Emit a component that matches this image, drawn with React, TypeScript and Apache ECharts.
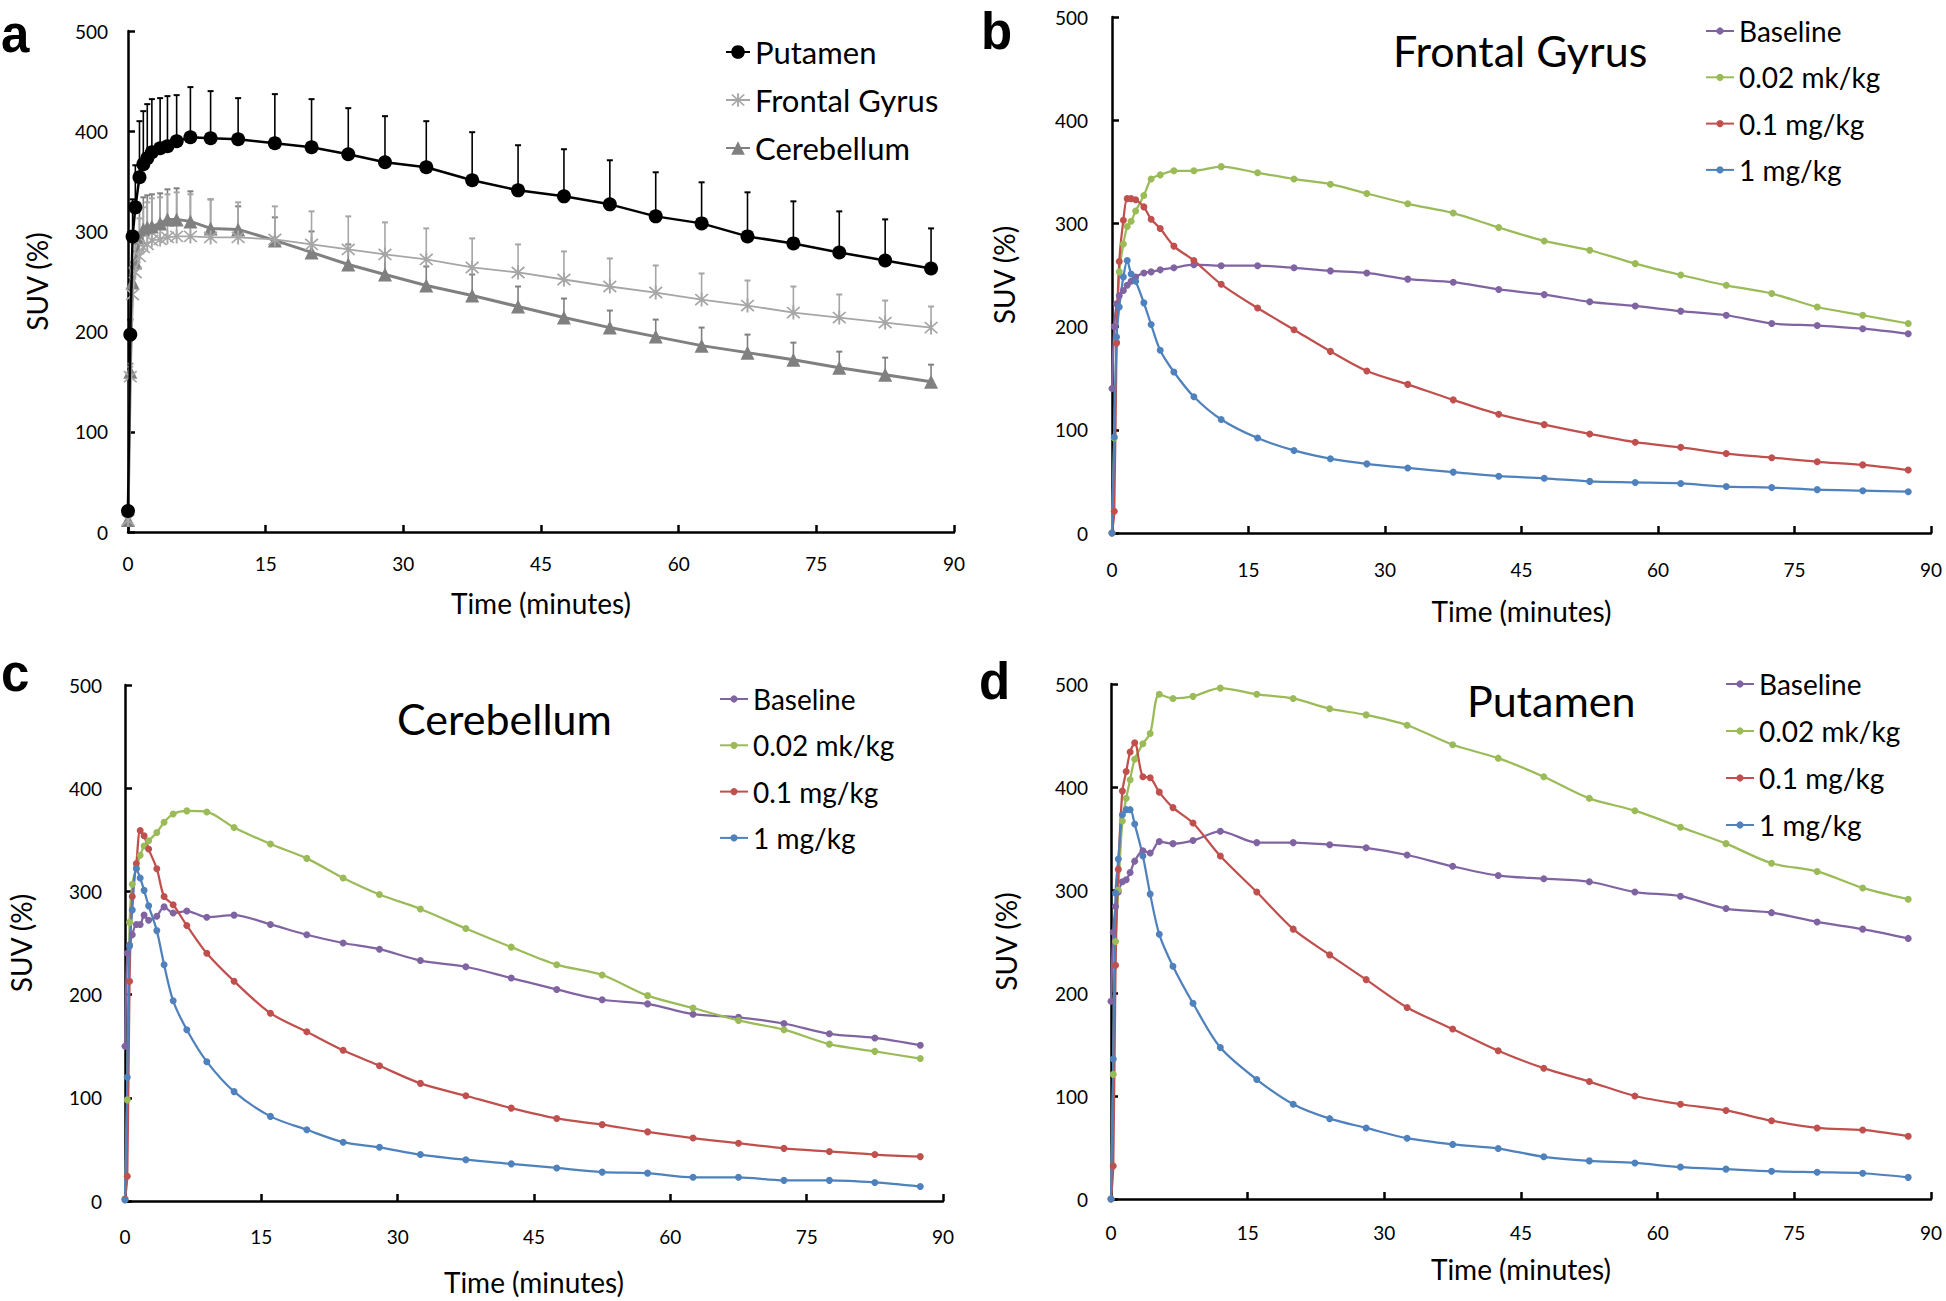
import React, { useEffect, useRef } from "react";
import * as echarts from "echarts";

// ---------- shared time grid (minutes) ----------
const TIME = [0, 0.25, 0.5, 0.8, 1.25, 1.67, 2.1, 2.6, 3.5, 4.3, 5.3, 6.8, 9, 12, 16, 20, 24, 28, 32.5, 37.5, 42.5, 47.5, 52.5, 57.5, 62.5, 67.5, 72.5, 77.5, 82.5, 87.5];

// ---------- panel a : regional means (+SD) ----------
const A_NAMES = ["Putamen", "Frontal Gyrus", "Cerebellum"];
const A_PUTAMEN = [21, 197, 295, 324, 354, 367, 373, 379, 383, 385, 390, 394, 393, 392, 388, 384, 377, 369, 364, 351, 341, 335, 327, 315, 308, 295, 288, 279, 271, 263];
const A_PUTAMEN_SD = [5, 15, 37, 42, 56, 53, 54, 53, 50, 50, 46, 50, 47, 41, 49, 48, 46, 46, 46, 48, 45, 47, 44, 44, 41, 44, 42, 41, 41, 40];
const A_FG = [12, 155, 237, 259, 275, 284, 287, 291, 292, 294, 295, 295, 294, 294, 292, 287, 282, 277, 272, 264, 259, 252, 245, 239, 232, 226, 219, 214, 209, 204];
const A_FG_SD = [3, 10, 20, 30, 38, 40, 42, 42, 42, 43, 44, 42, 38, 35, 33, 33, 33, 32, 31, 29, 28, 28, 28, 27, 26, 25, 26, 23, 22, 21];
const A_CB = [12, 160, 249, 269, 294, 302, 304, 305, 308, 312, 312, 310, 303, 302, 291, 279, 267, 257, 246, 236, 225, 214, 204, 195, 186, 179, 172, 164, 157, 150];
const A_CB_SD = [2, 8, 20, 28, 30, 32, 32, 32, 30, 30, 31, 30, 29, 23, 23, 21, 20, 20, 19, 21, 20, 19, 17, 17, 18, 18, 17, 16, 17, 17];

// ---------- dose groups ----------
const DOSE_NAMES = ["Baseline", "0.02 mk/kg", "0.1 mg/kg", "1 mg/kg"];

// panel b : Frontal Gyrus
const B_BASE = [140, 200, 222, 230, 235, 240, 244, 248, 252, 253, 255, 257, 260, 259, 259, 257, 254, 252, 246, 243, 236, 231, 224, 220, 215, 211, 203, 201, 198, 193];
const B_002 = [0, 92, 185, 253, 280, 297, 302, 312, 327, 343, 347, 351, 351, 355, 349, 343, 338, 329, 319, 310, 296, 283, 274, 261, 250, 240, 232, 219, 211, 203];
const B_01 = [0, 21, 184, 263, 303, 324, 324, 323, 316, 304, 295, 278, 264, 241, 218, 197, 176, 157, 144, 129, 115, 105, 96, 88, 83, 77, 73, 69, 66, 61];
const B_1 = [0, 93, 190, 219, 248, 264, 251, 244, 223, 202, 177, 156, 132, 110, 92, 80, 72, 67, 63, 59, 55, 53, 50, 49, 48, 45, 44, 42, 41, 40];

// panel c : Cerebellum
const C_BASE = [150, 240, 248, 258, 268, 268, 277, 272, 276, 285, 279, 281, 275, 277, 268, 258, 250, 244, 233, 227, 216, 205, 195, 191, 181, 178, 172, 162, 158, 151];
const C_002 = [2, 98, 270, 307, 323, 335, 344, 349, 357, 367, 375, 378, 377, 362, 346, 332, 313, 297, 283, 264, 246, 229, 219, 199, 187, 175, 166, 152, 145, 138];
const C_01 = [2, 24, 213, 295, 327, 359, 354, 341, 322, 295, 287, 267, 240, 213, 182, 164, 146, 131, 114, 102, 90, 80, 74, 67, 61, 56, 51, 48, 45, 43];
const C_1 = [1, 120, 247, 282, 322, 313, 301, 286, 262, 229, 194, 166, 135, 106, 82, 69, 57, 52, 45, 40, 36, 32, 28, 27, 23, 23, 20, 20, 18, 14];

// panel d : Putamen
const D_BASE = [192, 259, 284, 298, 308, 310, 317, 328, 338, 336, 347, 345, 348, 357, 346, 346, 344, 341, 334, 323, 314, 311, 308, 298, 294, 282, 278, 269, 262, 253];
const D_002 = [0, 121, 250, 300, 367, 389, 407, 427, 442, 452, 490, 486, 488, 496, 490, 486, 476, 470, 460, 441, 428, 410, 389, 377, 361, 345, 326, 318, 302, 291];
const D_01 = [0, 32, 227, 320, 396, 415, 434, 443, 410, 409, 395, 380, 365, 333, 298, 262, 237, 213, 186, 165, 144, 127, 114, 100, 92, 86, 76, 69, 67, 61];
const D_1 = [0, 136, 297, 330, 373, 378, 378, 364, 333, 296, 257, 226, 190, 147, 116, 92, 78, 69, 59, 53, 49, 41, 37, 35, 31, 29, 27, 26, 25, 21];

const FONT = "Lato";
const DOSE_COLORS = ["#8064A2", "#9BBB59", "#C0504D", "#4F81BD"];
const A_COLORS = ["#000000", "#A6A6A6", "#808080"];

const STAR = "path://M4.4 0 L5.6 0 L5.6 10 L4.4 10 Z M0.6 1.4 L1.4 0.6 L9.4 8.6 L8.6 9.4 Z M8.6 0.6 L9.4 1.4 L1.4 9.4 L0.6 8.6 Z";

const pairs = (vals: number[]) => TIME.map((t, i) => [t, vals[i]]);

function xAxisFor(gridIndex: number, nameGap: number, margin: number) {
  return {
    type: "value",
    gridIndex,
    min: 0,
    max: 90,
    interval: 15,
    name: "Time (minutes)",
    nameLocation: "middle",
    nameGap,
    nameTextStyle: { fontSize: 28, color: "#000", fontFamily: FONT },
    axisLine: { show: true, onZero: false, lineStyle: { color: "#000", width: 2.5 } },
    axisTick: { show: true, inside: true, length: 7, lineStyle: { color: "#000", width: 2.5 } },
    axisLabel: { fontSize: 19, color: "#000", margin, fontFamily: FONT },
    splitLine: { show: false },
  };
}

function yAxisFor(gridIndex: number, nameGap: number, margin: number) {
  return {
    type: "value",
    gridIndex,
    min: 0,
    max: 500,
    interval: 100,
    name: "SUV (%)",
    nameLocation: "middle",
    nameGap,
    nameTextStyle: { fontSize: 28, color: "#000", fontFamily: FONT },
    axisLine: { show: true, onZero: false, lineStyle: { color: "#000", width: 2.5 } },
    axisTick: { show: true, inside: true, length: 7, lineStyle: { color: "#000", width: 2.5 } },
    axisLabel: { fontSize: 19, color: "#000", margin, fontFamily: FONT },
    splitLine: { show: false },
  };
}

function errorSeries(mean: number[], sd: number[], color: string) {
  return {
    type: "custom",
    xAxisIndex: 0,
    yAxisIndex: 0,
    z: 1,
    silent: true,
    encode: { x: 0, y: 1 },
    data: TIME.map((t, i) => [t, mean[i], sd[i]]),
    renderItem: (params: any, api: any) => {
      const x = api.value(0);
      const y = api.value(1);
      const e = api.value(2);
      const p0 = api.coord([x, y]);
      const p1 = api.coord([x, y + e]);
      return {
        type: "group",
        children: [
          { type: "line", shape: { x1: p0[0], y1: p0[1], x2: p1[0], y2: p1[1] }, style: { stroke: color, lineWidth: 1.6 } },
          { type: "line", shape: { x1: p1[0] - 3, y1: p1[1], x2: p1[0] + 3, y2: p1[1] }, style: { stroke: color, lineWidth: 2 } },
        ],
      };
    },
  };
}

function doseSeries(gridIndex: number, arrays: number[][]) {
  return arrays.map((vals, k) => ({
    type: "line",
    name: DOSE_NAMES[k],
    xAxisIndex: gridIndex,
    yAxisIndex: gridIndex,
    data: pairs(vals),
    smooth: 0.3,
    symbol: "circle",
    symbolSize: 7,
    color: DOSE_COLORS[k],
    itemStyle: { color: DOSE_COLORS[k] },
    lineStyle: { color: DOSE_COLORS[k], width: 2.25 },
    z: 3,
  }));
}

function doseLegend(left: number, top: number, gap: number) {
  return {
    orient: "vertical",
    left,
    top,
    padding: 0,
    itemGap: gap,
    itemWidth: 28,
    itemHeight: 9,
    selectedMode: false,
    data: DOSE_NAMES,
    textStyle: { fontSize: 28, color: "#000", fontFamily: FONT, lineHeight: 33 },
  };
}

function buildOption() {
  const aMeans = [A_PUTAMEN, A_FG, A_CB];
  const aSd = [A_PUTAMEN_SD, A_FG_SD, A_CB_SD];
  const aSymbols = ["circle", STAR, "triangle"];
  const aWidths = [2.5, 1.8, 3];

  const aSeries: any[] = [];
  // error bars first (drawn below)
  [2, 1, 0].forEach((k) => aSeries.push(errorSeries(aMeans[k], aSd[k], A_COLORS[k])));
  [0, 1, 2].forEach((k) =>
    aSeries.push({
      type: "line",
      name: A_NAMES[k],
      xAxisIndex: 0,
      yAxisIndex: 0,
      data: pairs(aMeans[k]),
      symbol: aSymbols[k],
      symbolSize: 14,
      color: A_COLORS[k],
      itemStyle: { color: A_COLORS[k] },
      lineStyle: { color: A_COLORS[k], width: aWidths[k] },
      z: 5 - k,
    })
  );

  const titleStyle = (text: string, x: number, y: number) => ({
    type: "text",
    x,
    y,
    style: { text, fill: "#000", fontSize: 43, fontFamily: FONT, textAlign: "left", textVerticalAlign: "middle" },
  });
  const letter = (text: string, x: number, y: number) => ({
    type: "text",
    x,
    y,
    style: { text, fill: "#000", fontSize: 51, fontWeight: "bold", fontFamily: "Liberation Sans", textAlign: "left", textVerticalAlign: "middle" },
  });

  return {
    animation: false,
    backgroundColor: "#ffffff",
    grid: [
      { left: 128, top: 31, width: 826, height: 501 },
      { left: 1112, top: 17, width: 819, height: 516 },
      { left: 125, top: 685, width: 818, height: 516 },
      { left: 1111, top: 684, width: 820, height: 515 },
    ],
    xAxis: [xAxisFor(0, 57, 22), xAxisFor(1, 64, 27), xAxisFor(2, 67, 26), xAxisFor(3, 56, 24)],
    yAxis: [yAxisFor(0, 77, 20), yAxisFor(1, 94, 24), yAxisFor(2, 90, 23), yAxisFor(3, 91, 23)],
    legend: [
      {
        orient: "vertical",
        left: 725,
        top: 35,
        padding: 0,
        itemGap: 14,
        itemWidth: 24,
        itemHeight: 17,
        selectedMode: false,
        data: A_NAMES,
        textStyle: { fontSize: 31, color: "#000", fontFamily: FONT, lineHeight: 34 },
      },
      doseLegend(1705, 14.5, 13.3),
      doseLegend(719, 682.5, 13.3),
      doseLegend(1725, 667.5, 14),
    ],
    graphic: [
      letter("a", 1, 34),
      letter("b", 981, 31),
      letter("c", 1, 673),
      letter("d", 979, 681),
      titleStyle("Frontal Gyrus", 1393, 50),
      titleStyle("Cerebellum", 397, 718),
      titleStyle("Putamen", 1467, 700),
    ],
    series: [...aSeries, ...doseSeries(1, [B_BASE, B_002, B_01, B_1]), ...doseSeries(2, [C_BASE, C_002, C_01, C_1]), ...doseSeries(3, [D_BASE, D_002, D_01, D_1])],
  };
}

export default function App() {
  const ref = useRef<HTMLDivElement>(null);
  useEffect(() => {
    if (!ref.current) return;
    const chart = echarts.init(ref.current, undefined, { renderer: "svg" });
    chart.setOption(buildOption() as any);
    return () => chart.dispose();
  }, []);
  return (
    <div
      ref={ref}
      style={{ position: "absolute", left: 0, top: 0, width: 1946, height: 1301, background: "#fff" }}
    />
  );
}
